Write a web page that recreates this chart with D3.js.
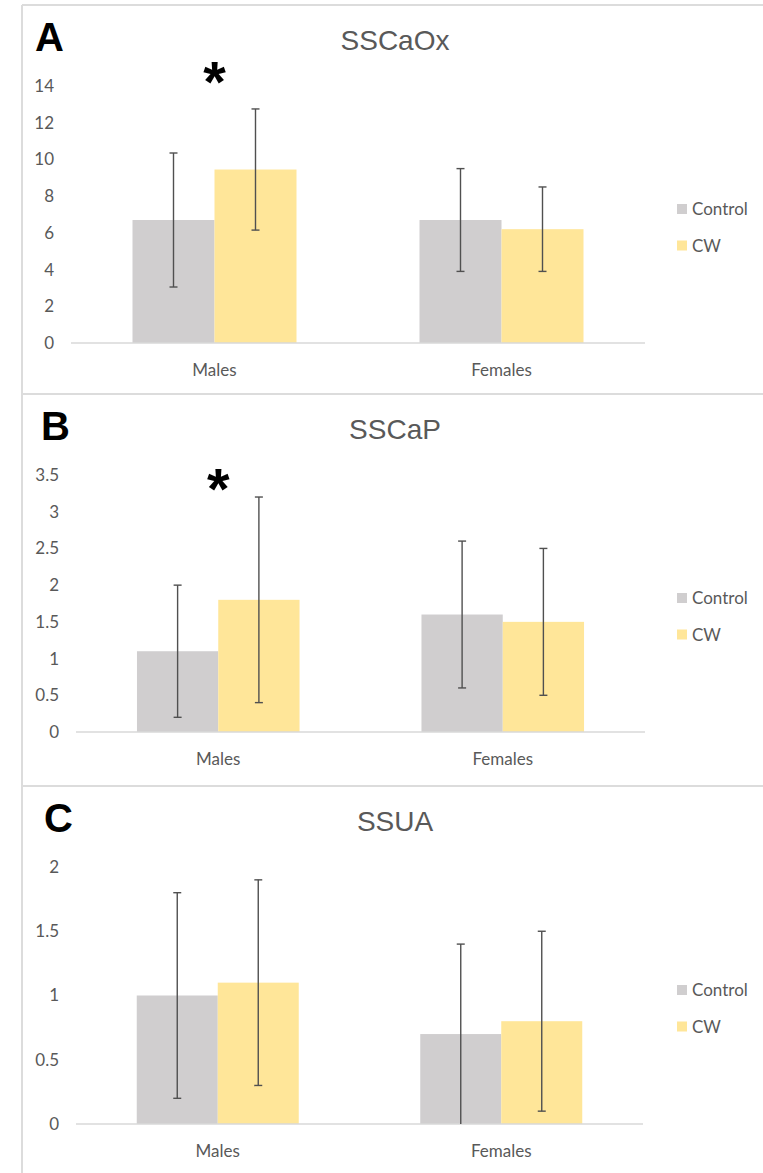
<!DOCTYPE html>
<html lang="en">
<head>
<meta charset="utf-8">
<title>SSCaOx / SSCaP / SSUA</title>
<style>
  body { margin: 0; background: #fff; }
  .tick-label, .cat-label, .legend-label { font-family: Lato, "Open Sans", sans-serif; fill: #595959; }
  .title { font-family: "Liberation Sans", Arial, sans-serif; fill: #595959; }
  .panel-letter, .star { font-family: "Liberation Sans", Arial, sans-serif; font-weight: bold; fill: #000; }
  .frame { stroke: #dcdcdc; stroke-width: 2; }
  .baseline { stroke: #d9d9d9; stroke-width: 1.5; }
  .err { stroke: #505050; stroke-width: 1.4; }
</style>
</head>
<body>
<svg id="chart" width="763" height="1173"></svg>
<script src="https://cdn.jsdelivr.net/npm/d3@7"></script>
<script>

// categories and series
var groups = ["Males", "Females"];
var seriesNames = ["Control", "CW"];
var seriesColors = ["#d0cecf", "#ffe699"];

// A - SSCaOx
var caOxControl = [6.7, 6.7];
var caOxControlErr = [3.65, 2.8];
var caOxCW = [9.45, 6.2];
var caOxCWErr = [3.3, 2.3];
var caOxTicks = [0, 2, 4, 6, 8, 10, 12, 14];

// B - SSCaP
var caPControl = [1.1, 1.6];
var caPControlErr = [0.9, 1.0];
var caPCW = [1.8, 1.5];
var caPCWErr = [1.4, 1.0];
var caPTicks = [0, 0.5, 1, 1.5, 2, 2.5, 3, 3.5];

// C - SSUA
var uaControl = [1.0, 0.7];
var uaControlErr = [0.8, 0.7];
var uaCW = [1.1, 0.8];
var uaCWErr = [0.8, 0.7];
var uaTicks = [0, 0.5, 1, 1.5, 2];

var panels = [
  { letter: "A", title: "SSCaOx", top: 0, letterX: 35, x0: 71, x1: 645,
    means: [caOxControl, caOxCW], errs: [caOxControlErr, caOxCWErr], ticks: caOxTicks, star: 14.65 },
  { letter: "B", title: "SSCaP", top: 389, letterX: 41, x0: 76, x1: 645,
    means: [caPControl, caPCW], errs: [caPControlErr, caPCWErr], ticks: caPTicks, star: 3.41 },
  { letter: "C", title: "SSUA", top: 781, letterX: 44, x0: 76, x1: 643,
    means: [uaControl, uaCW], errs: [uaControlErr, uaCWErr], ticks: uaTicks, star: null }
];

var svg = d3.select("#chart");

// frame lines between the panels
svg.append("line").attr("class", "frame")
    .attr("x1", 22).attr("x2", 22).attr("y1", 5).attr("y2", 1173);
panels.forEach(function(p) {
  svg.append("line").attr("class", "frame")
      .attr("x1", 22).attr("x2", 763)
      .attr("y1", p.top + 5).attr("y2", p.top + 5);
});

panels.forEach(drawPanel);

function drawPanel(p) {
  var g = svg.append("g").attr("transform", "translate(0," + p.top + ")");

  var yScale = d3.scaleLinear()
      .domain([0, d3.max(p.ticks)])
      .range([343, 86]);

  var xGroup = d3.scaleBand()
      .domain(groups)
      .range([p.x0, p.x1])
      .padding(0);

  var xSeries = d3.scaleBand()
      .domain(seriesNames)
      .range([0, xGroup.bandwidth()])
      .paddingInner(0)
      .paddingOuter(0.75);

  // panel letter and title
  g.append("text").attr("class", "panel-letter")
      .attr("x", p.letterX).attr("y", 51)
      .style("font-size", "40px")
      .text(p.letter);

  g.append("text").attr("class", "title")
      .attr("x", 395).attr("y", 50)
      .attr("text-anchor", "middle")
      .style("font-size", "28px")
      .text(p.title);

  // y tick labels (no axis line, like excel)
  var yAxis = d3.axisLeft(yScale)
      .tickValues(p.ticks)
      .tickFormat(d3.format("~g"))
      .tickSize(0).tickPadding(0);
  var ya = g.append("g")
      .attr("transform", "translate(" + (p.x0 - 17) + ",0)")
      .call(yAxis);
  ya.select(".domain").remove();
  ya.selectAll("text")
      .attr("class", "tick-label")
      .attr("fill", null)
      .style("font-size", "17px")
      .style("font-family", null);

  // bars
  var rows = [];
  groups.forEach(function(gr, i) {
    seriesNames.forEach(function(s, j) {
      rows.push({ group: gr, series: s, color: seriesColors[j], value: p.means[j][i], err: p.errs[j][i] });
    });
  });

  g.selectAll(".bar")
    .data(rows)
    .enter().append("rect")
      .attr("class", "bar")
      .attr("x", function(d) { return xGroup(d.group) + xSeries(d.series); })
      .attr("width", xSeries.bandwidth())
      .attr("y", function(d) { return yScale(d.value); })
      .attr("height", function(d) { return yScale(0) - yScale(d.value); })
      .attr("fill", function(d) { return d.color; });

  // x baseline
  g.append("line").attr("class", "baseline")
      .attr("x1", p.x0).attr("x2", p.x1)
      .attr("y1", yScale(0)).attr("y2", yScale(0));

  // error bars
  var eb = g.selectAll(".errbar")
    .data(rows)
    .enter().append("g")
      .attr("class", "errbar")
      .attr("transform", function(d) {
        return "translate(" + (xGroup(d.group) + xSeries(d.series) + xSeries.bandwidth() / 2) + ",0)";
      });

  eb.append("line").attr("class", "err")
      .attr("y1", function(d) { return yScale(d.value + d.err); })
      .attr("y2", function(d) { return yScale(Math.max(0, d.value - d.err)); });
  eb.append("line").attr("class", "err")
      .attr("x1", -4).attr("x2", 4)
      .attr("y1", function(d) { return yScale(d.value + d.err); })
      .attr("y2", function(d) { return yScale(d.value + d.err); });
  eb.filter(function(d) { return d.value - d.err > 0; })
    .append("line").attr("class", "err")
      .attr("x1", -4).attr("x2", 4)
      .attr("y1", function(d) { return yScale(d.value - d.err); })
      .attr("y2", function(d) { return yScale(d.value - d.err); });

  // category labels
  g.selectAll(".cat-label")
    .data(groups)
    .enter().append("text")
      .attr("class", "cat-label")
      .attr("x", function(d) { return xGroup(d) + xGroup.bandwidth() / 2; })
      .attr("y", 376)
      .attr("text-anchor", "middle")
      .style("font-size", "17px")
      .text(function(d) { return d; });

  // significance star over males
  if (p.star !== null) {
    g.append("text").attr("class", "star")
        .attr("x", xGroup("Males") + xGroup.bandwidth() / 2)
        .attr("y", yScale(p.star))
        .attr("dy", "0.48em")
        .attr("text-anchor", "middle")
        .style("font-size", "58px")
        .text("*");
  }

  // legend
  var leg = g.selectAll(".legend")
    .data(seriesNames)
    .enter().append("g")
      .attr("class", "legend")
      .attr("transform", function(d, i) { return "translate(677," + (204 + i * 36.5) + ")"; });

  leg.append("rect")
      .attr("width", 10).attr("height", 10)
      .attr("fill", function(d, i) { return seriesColors[i]; });

  leg.append("text")
      .attr("class", "legend-label")
      .attr("x", 15).attr("y", 5)
      .attr("dy", "0.36em")
      .style("font-size", "17px")
      .text(function(d) { return d; });
}

</script>
</body>
</html>
